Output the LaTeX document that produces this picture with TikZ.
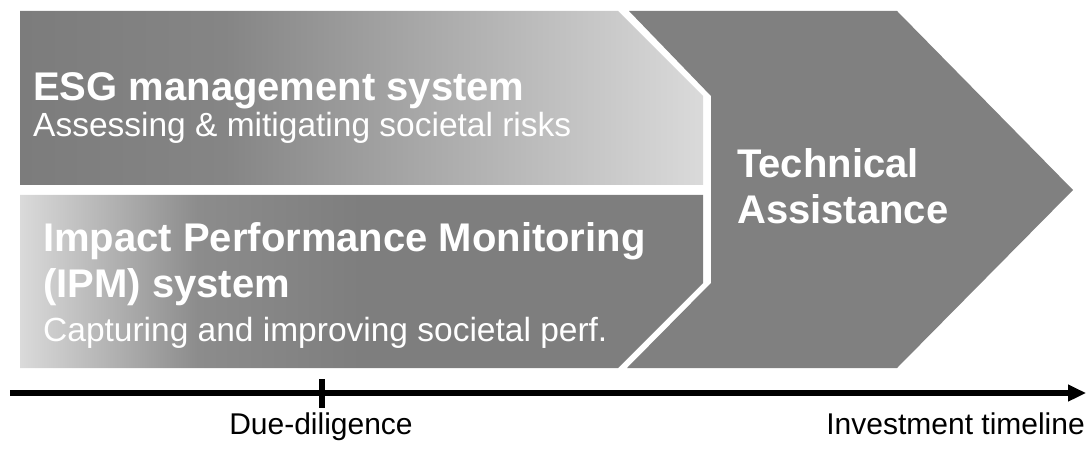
\documentclass[tikz,border=0pt]{standalone}
\usepackage{fontspec}
\setmainfont{Liberation Sans}
\usetikzlibrary{arrows.meta}
\definecolor{dk}{HTML}{808080}
\definecolor{topL}{HTML}{7C7C7C}
\definecolor{topM}{HTML}{858585}
\definecolor{topR}{HTML}{DADADA}
\definecolor{botL}{HTML}{DADADA}
\definecolor{botM}{HTML}{8C8C8C}
\definecolor{botR}{HTML}{7E7E7E}
\pgfdeclarehorizontalshading{topshade}{100bp}{color(0bp)=(topL); color(25bp)=(topL); color(40bp)=(topM); color(75bp)=(topR); color(100bp)=(topR)}
\pgfdeclarehorizontalshading{botshade}{100bp}{color(0bp)=(botL); color(25bp)=(botL); color(38bp)=(botM); color(50bp)=(botR); color(100bp)=(botR)}
\tikzset{
  bold/.style={text=white, inner sep=0pt, anchor=base west, font=\fontsize{40}{46}\selectfont\bfseries},
  reg/.style={text=white, inner sep=0pt, anchor=base west, font=\fontsize{33.5}{40}\selectfont},
  axis/.style={black, line width=5.5pt},
  axlabel/.style={text=black, inner sep=0pt, font=\fontsize{30}{35}\selectfont},
}
\begin{document}
\begin{tikzpicture}[x=1pt,y=-1pt]
\useasboundingbox (0,0) rectangle (1086,449);
% chevron
\fill[dk] (629,11) -- (897,11) -- (1073,190) -- (897,368) -- (627,368) -- (711,283) -- (711,96) -- cycle;
% top bar
\shade[shading=topshade] (20,11) -- (618,11) -- (703,96) -- (703,185) -- (20,185) -- cycle;
% bottom bar
\shade[shading=botshade] (20,195) -- (703,195) -- (703,283) -- (618,368) -- (20,368) -- cycle;
% texts
\node[bold] (esg) at (33,101) {ESG management system};
\node[reg] (esgsub) at (33,137) {Assessing \& mitigating societal risks};
\node[bold] (ipm1) at (43,251) {Impact Performance Monitoring};
\node[bold] (ipm2) at (43,297) {(IPM) system};
\node[reg] (ipmsub) at (43,341) {Capturing and improving societal perf.};
\node[bold] (ta1) at (737,178) {Technical};
\node[bold] (ta2) at (737,223) {Assistance};
% timeline
\coordinate (t0) at (10,393);
\coordinate (t1) at (1086,393);
\coordinate (dtop) at (322,379);
\coordinate (dbot) at (322,408);
\draw[axis, -{Triangle[length=18pt,width=16pt]}] (t0) -- (t1);
\draw[axis] (dtop) -- (dbot);
\node[axlabel, anchor=base] (dd) at (321,434) {Due-diligence};
\node[axlabel, anchor=base east] (it) at (1085,434) {Investment timeline};
\end{tikzpicture}
\end{document}
